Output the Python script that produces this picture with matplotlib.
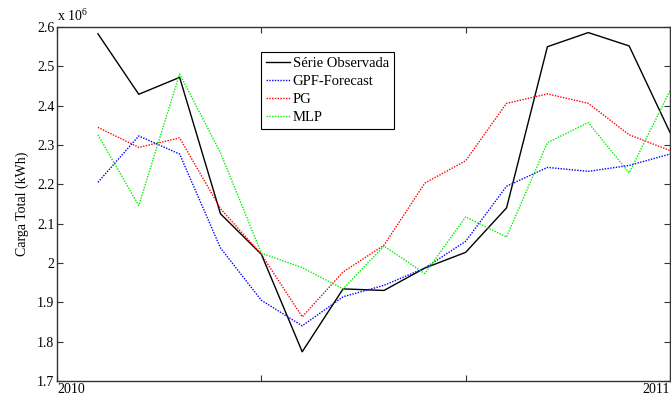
import matplotlib
matplotlib.use("Agg")
import matplotlib.pyplot as plt

# monthly points between 2010 and 2011 (fraction of the year span)
x = [k / 15 for k in range(1, 16)]

# values in units of 1e6 kWh
observada = [2.583, 2.429, 2.472, 2.125, 2.022, 1.774, 1.934, 1.930, 1.987,
             2.027, 2.140, 2.550, 2.586, 2.552, 2.332]
gpf = [2.205, 2.323, 2.277, 2.038, 1.905, 1.840, 1.914, 1.943, 1.987,
       2.055, 2.195, 2.243, 2.233, 2.248, 2.277]
pg = [2.345, 2.294, 2.318, 2.138, 2.022, 1.863, 1.977, 2.045, 2.203,
      2.260, 2.406, 2.430, 2.406, 2.326, 2.286]
mlp = [2.326, 2.146, 2.481, 2.280, 2.025, 1.988, 1.934, 2.043, 1.973,
       2.117, 2.066, 2.306, 2.357, 2.229, 2.438]

x_ticks = [0, 1/3, 2/3, 1]
x_labels = ["2010", "", "", "2011"]
y_ticks = [1.7, 1.8, 1.9, 2.0, 2.1, 2.2, 2.3, 2.4, 2.5, 2.6]
y_labels = ["1.7", "1.8", "1.9", "2", "2.1", "2.2", "2.3", "2.4", "2.5", "2.6"]

plt.rcParams['font.family'] = ['Liberation Serif', 'DejaVu Serif']
plt.rcParams['mathtext.fontset'] = 'custom'
plt.rcParams['mathtext.rm'] = 'Liberation Serif'

fig = plt.figure(figsize=(6.71, 3.98), dpi=100)
ax = fig.add_axes([0.085, 0.043, 0.9135, 0.889])

dot = (0, (1, 1))
ax.plot(x, observada, color='black', lw=1.0, label='Série Observada')
ax.plot(x, gpf, color='blue', lw=1.0, ls=dot, label='GPF-Forecast')
ax.plot(x, pg, color='red', lw=1.0, ls=dot, label='PG')
ax.plot(x, mlp, color='#00f000', lw=1.0, ls=dot, label='MLP')

ax.set_xlim(0, 1)
ax.set_ylim(1.7, 2.6)
ax.set_xticks(x_ticks)
ax.set_xticklabels(x_labels, fontsize=10)
xl = ax.get_xticklabels()
xl[0].set_ha('left')
xl[-1].set_ha('right')
ax.set_yticks(y_ticks)
ax.set_yticklabels(y_labels, fontsize=10)
ax.tick_params(direction='in', top=True, right=True, length=4, width=0.8,
               color='#333333', pad=2)
ax.tick_params(axis='x', pad=1.5)
for s in ax.spines.values():
    s.set_color('#333333')
    s.set_linewidth(1.0)

ax.set_ylabel('Carga Total (kWh)', fontsize=10, labelpad=6)
ax.text(0.0, 1.008, 'x 10$^{6}$', transform=ax.transAxes, fontsize=10,
        ha='left', va='bottom')

leg = ax.legend(loc='upper left', bbox_to_anchor=(0.332, 0.93), fontsize=10.5,
                fancybox=False, framealpha=1, edgecolor='black',
                handlelength=1.7, handletextpad=0.15, borderpad=0.35,
                labelspacing=0.32, borderaxespad=0)
leg.get_frame().set_linewidth(0.8)

fig.savefig('out.png', dpi=100)
